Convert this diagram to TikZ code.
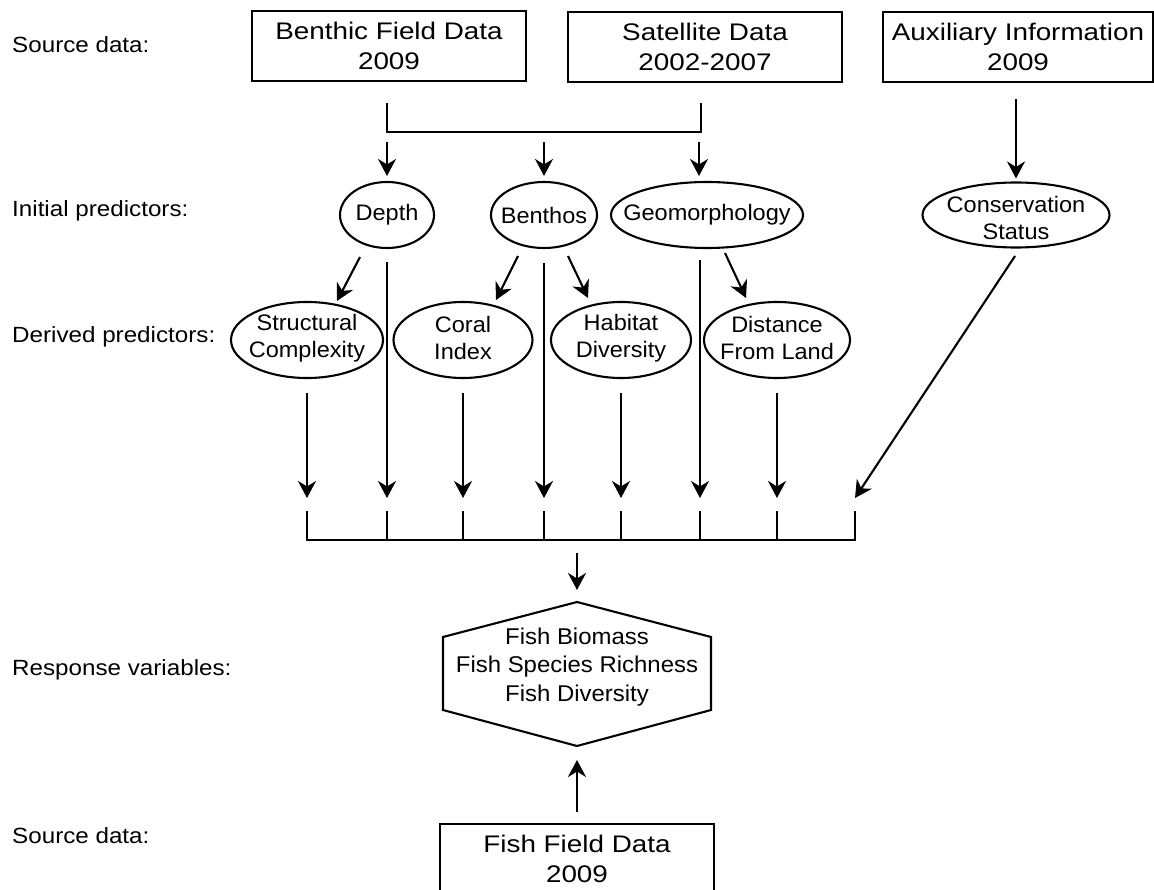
\documentclass[tikz,border=0pt]{standalone}
\usepackage{fontspec}
\setmainfont{Liberation Sans}
\newfontfamily\boxfont{Liberation Sans}[FakeStretch=1.16]
\newfontfamily\elfont{Liberation Sans}[FakeStretch=1.05]
\newfontfamily\lblfont{Liberation Sans}[FakeStretch=1.1]
\usetikzlibrary{arrows.meta,shapes.geometric}
\begin{document}
\begin{tikzpicture}[x=1pt,y=-1pt,
  ln/.style={line width=2.1pt},
  arr/.style={ln, -{Stealth[length=17pt,width=18pt,inset=5.5pt]}},
  srcbox/.style={draw, line width=2.1pt, minimum height=70pt, inner sep=0pt, align=center,
    font=\boxfont\fontsize{24}{29.4}\selectfont},
  ell/.style={draw, ellipse, line width=2.1pt, inner sep=0pt},
  eltext/.style={align=center, inner sep=0pt, font=\elfont\fontsize{22.4}{27.3}\selectfont},
  rowlabel/.style={anchor=base west, inner sep=0pt, font=\lblfont\fontsize{22}{26}\selectfont},
]
\fill[white] (0,0) rectangle (1154,890);
\useasboundingbox (0,0) rectangle (1154,890);

% row labels
\node[rowlabel] (l1) at (12,53) {Source data:};
\node[rowlabel] (l2) at (12,217) {Initial predictors:};
\node[rowlabel] (l3) at (12,343) {Derived predictors:};
\node[rowlabel] (l4) at (12,675) {Response variables:};
\node[rowlabel] (l5) at (12,843) {Source data:};

% source boxes
\node[srcbox, minimum width=274pt] (benthic) at (389,46) {Benthic Field Data\\2009};
\node[srcbox, minimum width=274pt] (sat) at (705,47) {Satellite Data\\2002-2007};
\node[srcbox, minimum width=270pt] (aux) at (1018,47) {Auxiliary Information\\2009};
\node[srcbox, minimum width=274pt] (fish) at (577,859) {Fish Field Data\\2009};

% initial predictors
\node[ell, minimum width=94pt, minimum height=66pt] (depth) at (387,215) {};
\node[eltext] (depth-t) at (depth) {Depth};
\node[ell, minimum width=106pt, minimum height=66pt] (benthos) at (544,215) {};
\node[eltext] (benthos-t) at (benthos) {Benthos};
\node[ell, minimum width=192pt, minimum height=66pt] (geo) at (707,215) {};
\node[eltext] (geo-t) at (geo) {Geomorphology};
\node[ell, minimum width=187pt, minimum height=65pt] (cons) at (1016,215) {};
\node[eltext] (cons-t) at (1016,218) {Conservation\\Status};

% derived predictors
\node[ell, minimum width=152pt, minimum height=76pt] (struct) at (307,340) {};
\node[eltext] (struct-t) at (307,338) {Structural\\Complexity};
\node[ell, minimum width=139pt, minimum height=76pt] (coral) at (463,340) {};
\node[eltext] (coral-t) at (463,338) {Coral\\Index};
\node[ell, minimum width=140pt, minimum height=76pt] (habitat) at (621,340) {};
\node[eltext] (habitat-t) at (621,338) {Habitat\\Diversity};
\node[ell, minimum width=146pt, minimum height=76pt] (dist) at (777,340) {};
\node[eltext] (dist-t) at (777,338) {Distance\\From Land};

% top bracket
\coordinate (tl) at (387,103);
\coordinate (tr) at (701,103);
\coordinate (tjl) at (387,132);
\coordinate (tjr) at (701,132);
\draw[ln] (tl) -- (tjl) -- (tjr) -- (tr);
\coordinate (a1) at (387,142);
\coordinate (a2) at (544,142);
\coordinate (a3) at (699,142);
\draw[arr, shorten >=5pt] (a1) -- (depth.north);
\draw[arr, shorten >=5pt] (a2) -- (benthos.north);
\draw[arr, shorten >=5pt] (a3) -- (a3 |- geo.north);
\draw[arr, shorten <=16pt, shorten >=3pt] (aux.south -| cons) -- (cons.north);

% diagonal arrows to derived predictors
\coordinate (d1s) at (360,257); \coordinate (d1e) at (337,301);
\coordinate (d2s) at (518,256); \coordinate (d2e) at (496,300);
\coordinate (d3s) at (568,256); \coordinate (d3e) at (588,298);
\coordinate (d4s) at (725,253); \coordinate (d4e) at (746,298);
\draw[arr] (d1s) -- (d1e);
\draw[arr] (d2s) -- (d2e);
\draw[arr] (d3s) -- (d3e);
\draw[arr] (d4s) -- (d4e);

% arrows down to the collector
\coordinate (tipY) at (0,498);
\draw[arr, shorten <=13pt] (depth.south) -- (depth.south |- tipY);
\draw[arr, shorten <=14pt] (benthos.south) -- (benthos.south |- tipY);
\coordinate (g2) at (700,260);
\draw[arr] (g2) -- (g2 |- tipY);
\draw[arr, shorten <=14pt] (struct.south) -- (struct.south |- tipY);
\draw[arr, shorten <=14pt] (coral.south) -- (coral.south |- tipY);
\draw[arr, shorten <=14pt] (habitat.south) -- (habitat.south |- tipY);
\draw[arr, shorten <=14pt] (dist.south) -- (dist.south |- tipY);
\coordinate (c1) at (1015,256);
\coordinate (c2) at (855,498);
\draw[arr] (c1) -- (c2);

% bottom bracket
\foreach \x in {307,387,463,544,621,700,777,855}
  \draw[ln] (\x,511) -- (\x,540);
\draw[ln, line cap=rect] (307,540) -- (855,540);

% response hexagon
\coordinate (hT) at (577,602);
\coordinate (hUR) at (711,637);
\coordinate (hLR) at (711,710);
\coordinate (hB) at (577,746);
\coordinate (hLL) at (443,710);
\coordinate (hUL) at (443,637);
\draw[ln, line join=miter] (hT) -- (hUR) -- (hLR) -- (hB) -- (hLL) -- (hUL) -- cycle;
\node[eltext, font=\elfont\fontsize{22.8}{28.3}\selectfont] (resp) at (577,667)
  {Fish Biomass\\Fish Species Richness\\Fish Diversity};
\coordinate (m1) at (577,553);
\draw[arr, shorten >=12pt] (m1) -- (hT);
\draw[arr, shorten <=11pt, shorten >=14pt] (fish.north) -- (hB);
\end{tikzpicture}
\end{document}
